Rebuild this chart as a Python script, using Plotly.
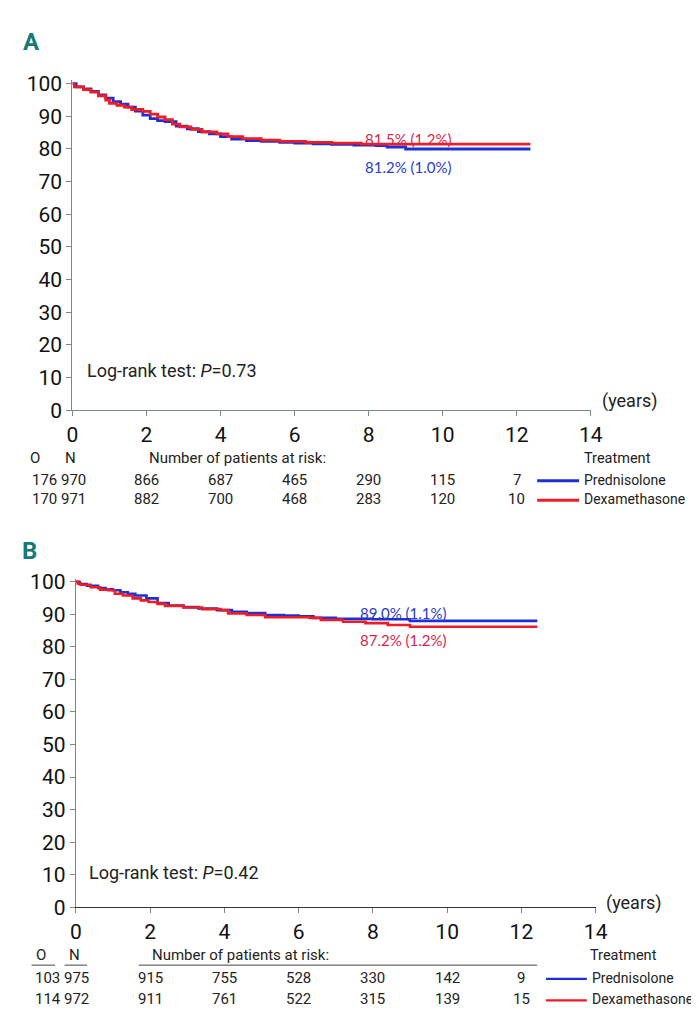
import plotly.graph_objects as go

# ---------------- data ----------------
# Panel A
a_pred_t = [0, 0.1, 0.3, 0.5, 0.7, 0.9, 1.1, 1.3, 1.5, 1.7, 1.9, 2.1, 2.3, 2.5, 2.8, 3.1, 3.4, 3.7, 4.0, 4.3, 4.7, 5.1, 5.6, 6.0, 6.5, 7.0, 7.6, 8.2, 8.5, 9.0, 12.37]
a_pred_s = [100, 99.0, 98.4, 97.6, 96.6, 95.6, 94.5, 93.7, 92.8, 91.6, 90.4, 89.3, 88.7, 88.4, 87.0, 86.2, 85.3, 84.6, 83.8, 83.0, 82.6, 82.3, 82.0, 81.8, 81.6, 81.4, 81.2, 81.0, 80.6, 80.0, 80.0]
a_dexa_t = [0, 0.05, 0.3, 0.5, 0.7, 0.9, 1.0, 1.2, 1.4, 1.6, 1.9, 2.1, 2.3, 2.5, 2.7, 2.9, 3.2, 3.5, 3.9, 4.2, 4.6, 5.1, 5.6, 6.3, 7.0, 7.8, 12.37]
a_dexa_s = [100, 99.0, 98.2, 97.4, 96.3, 95.0, 94.0, 93.4, 92.8, 92.1, 91.5, 90.7, 89.8, 89.0, 87.6, 86.8, 86.0, 85.2, 84.6, 83.8, 83.2, 82.7, 82.3, 82.0, 81.8, 81.5, 81.5]
a_O = [176, 170]
a_N = [970, 971]
a_risk_years = [2, 4, 6, 8, 10, 12]
a_risk_pred = [866, 687, 465, 290, 115, 7]
a_risk_dexa = [882, 700, 468, 283, 120, 10]
a_pval = "0.73"
a_lab_pred = "81.2% (1.0%)"
a_lab_dexa = "81.5% (1.2%)"

# Panel B
b_pred_t = [0, 0.1, 0.3, 0.6, 0.8, 1.0, 1.2, 1.4, 1.6, 1.9, 2.2, 2.5, 2.9, 3.3, 3.8, 4.2, 4.6, 5.1, 5.6, 6.0, 6.4, 7.0, 8.0, 9.0, 12.43]
b_pred_s = [100, 99.3, 98.8, 98.1, 97.7, 97.4, 96.8, 96.3, 95.8, 94.9, 93.5, 92.7, 92.2, 91.8, 91.3, 90.8, 90.4, 89.8, 89.6, 89.4, 88.9, 88.6, 88.5, 88.0, 88.0]
b_dexa_t = [0, 0.05, 0.13, 0.4, 0.65, 0.87, 1.05, 1.27, 1.53, 1.75, 1.96, 2.2, 2.4, 2.9, 3.4, 3.9, 4.1, 4.6, 5.1, 6.3, 6.6, 7.2, 7.8, 8.4, 9.0, 12.43]
b_dexa_s = [100, 99.5, 99.1, 98.3, 97.6, 97.4, 96.3, 95.8, 94.9, 94.3, 93.8, 93.2, 92.6, 92.1, 91.6, 91.3, 90.3, 89.8, 89.1, 88.9, 88.3, 87.7, 87.3, 86.7, 86.2, 86.2]
b_O = [103, 114]
b_N = [975, 972]
b_risk_years = [2, 4, 6, 8, 10, 12]
b_risk_pred = [915, 755, 528, 330, 142, 9]
b_risk_dexa = [911, 761, 522, 315, 139, 15]
b_pval = "0.42"
b_lab_pred = "89.0% (1.1%)"
b_lab_dexa = "87.2% (1.2%)"

y_ticks = list(range(0, 101, 10))
x_ticks = list(range(0, 15, 2))
treatments = ["Prednisolone", "Dexamethasone"]

# ---------------- style ----------------
W, H = 699, 1026
NARROW = "Roboto, Liberation Sans, sans-serif"
LABF = "Lato, Open Sans, sans-serif"
BLUE = "#1f2fd6"
RED = "#ee1c25"
BLUE_T = "#2a3cc8"
RED_T = "#d8264a"
TEAL = "#167a78"
AX = "#7a8a8a"


def px(x):
    return x / W


def py(y):
    return 1 - y / H


fig = go.Figure()

fig.add_trace(go.Scatter(x=a_pred_t, y=a_pred_s, mode="lines", line=dict(color=BLUE, width=2.8, shape="hv"),
                         xaxis="x", yaxis="y", showlegend=False))
fig.add_trace(go.Scatter(x=a_dexa_t, y=a_dexa_s, mode="lines", line=dict(color=RED, width=2.8, shape="hv"),
                         xaxis="x", yaxis="y", showlegend=False))
fig.add_trace(go.Scatter(x=b_pred_t, y=b_pred_s, mode="lines", line=dict(color=BLUE, width=2.6, shape="hv"),
                         xaxis="x2", yaxis="y2", showlegend=False))
fig.add_trace(go.Scatter(x=b_dexa_t, y=b_dexa_s, mode="lines", line=dict(color=RED, width=2.6, shape="hv"),
                         xaxis="x2", yaxis="y2", showlegend=False))

# panel geometry (pixels)
A = dict(x0=60, x1=592, ytop=65.7, ybot=402)
B = dict(x0=63.5, x1=597, ytop=573.7, ybot=909)

ax_common = dict(showgrid=False, zeroline=False, showline=True, linecolor=AX, linewidth=1.3,
                 ticks="outside", ticklen=5, tickcolor=AX, tickwidth=1,
                 tickfont=dict(family=NARROW, size=21, color="#111"))

fig.update_layout(
    width=W, height=H, margin=dict(l=0, r=0, t=0, b=0),
    paper_bgcolor="white", plot_bgcolor="white",
    xaxis=dict(domain=[px(A["x0"]), px(A["x1"])], range=[0, 14], tickvals=x_ticks, anchor="y", **ax_common),
    yaxis=dict(domain=[py(A["ybot"]), py(A["ytop"])], range=[0, 101], tickvals=y_ticks, anchor="x", **ax_common),
    xaxis2=dict(domain=[px(B["x0"]), px(B["x1"])], range=[0, 14], tickvals=x_ticks, anchor="y2", **ax_common),
    yaxis2=dict(domain=[py(B["ybot"]), py(B["ytop"])], range=[0, 101], tickvals=y_ticks, anchor="x2", **ax_common),
)
fig.layout.xaxis2.linecolor = "#333"

ann = []


def txt(x, y, s, size=15, color="#222", family=NARROW, xanchor="left", xref="paper", yref="paper", **kw):
    ann.append(dict(x=x, y=y, text=s, xref=xref, yref=yref, xanchor=xanchor, yanchor="middle",
                    showarrow=False, font=dict(family=family, size=size, color=color), **kw))


# Panel titles
txt(px(7), py(27), "<b>A</b>", size=24, color=TEAL, family=NARROW)
txt(px(6), py(546), "<b>B</b>", size=24, color=TEAL, family=NARROW)

# curve labels
txt(7.85, 83.0, a_lab_dexa, size=15, color=RED_T, family=LABF, xref="x", yref="y", xanchor="left")
txt(7.85, 74.6, a_lab_pred, size=15, color=BLUE_T, family=LABF, xref="x", yref="y", xanchor="left")
txt(7.6, 90.3, b_lab_pred, size=15, color=BLUE_T, family=LABF, xref="x2", yref="y2", xanchor="left")
txt(7.6, 82.2, b_lab_dexa, size=15, color=RED_T, family=LABF, xref="x2", yref="y2", xanchor="left")

# log-rank
txt(px(73), py(362), "Log-rank test: <i>P</i>=" + a_pval, size=18)
txt(px(75), py(874), "Log-rank test: <i>P</i>=" + b_pval, size=18)

# (years)
txt(px(601), py(393), "(years)", size=18)
txt(px(606), py(905), "(years)", size=18)


def risk_table(xr, O, N, years, pred, dexa, y_head, y_r1, y_r2, xO, xN, xcnt, xhead, xtreat, leg_x0, leg_x1, lw):
    txt(px(xO), py(y_head), "O", size=15, xanchor="center")
    txt(px(xN), py(y_head), "N", size=15, xanchor="center")
    txt(px(xhead), py(y_head), "Number of patients at risk:", size=15)
    txt(px(xtreat), py(y_head), "Treatment", size=14.5)
    for row_y, o, n in [(y_r1, O[0], N[0]), (y_r2, O[1], N[1])]:
        txt(px(xcnt), py(row_y), f"{o} {n}", size=15)
    for yr, p, d in zip(years, pred, dexa):
        txt(yr, py(y_r1), str(p), size=15, xanchor="center", xref=xr)
        txt(yr, py(y_r2), str(d), size=15, xanchor="center", xref=xr)
    for row_y, name, col in [(y_r1, treatments[0], BLUE), (y_r2, treatments[1], RED)]:
        txt(px(leg_x1 + 3), py(row_y), name, size=14)
        fig.add_shape(type="line", xref="paper", yref="paper", x0=px(leg_x0), x1=px(leg_x1),
                      y0=py(row_y + 1), y1=py(row_y + 1), line=dict(color=col, width=lw))


risk_table("x", a_O, a_N, a_risk_years, a_risk_pred, a_risk_dexa, 451, 473, 493,
           22, 58, 16, 137, 583, 537, 580, 3)
risk_table("x2", b_O, b_N, b_risk_years, b_risk_pred, b_risk_dexa, 958, 981, 1003,
           28, 62, 20, 140, 589, 546, 588, 2.2)

# underlines in panel B table
for x0, x1 in [(18, 42), (52, 75), (128, 537)]:
    fig.add_shape(type="line", xref="paper", yref="paper", x0=px(x0), x1=px(x1), y0=py(968), y1=py(968),
                  line=dict(color="#444", width=1))

fig.update_layout(annotations=ann)
fig.write_html("out.html")
